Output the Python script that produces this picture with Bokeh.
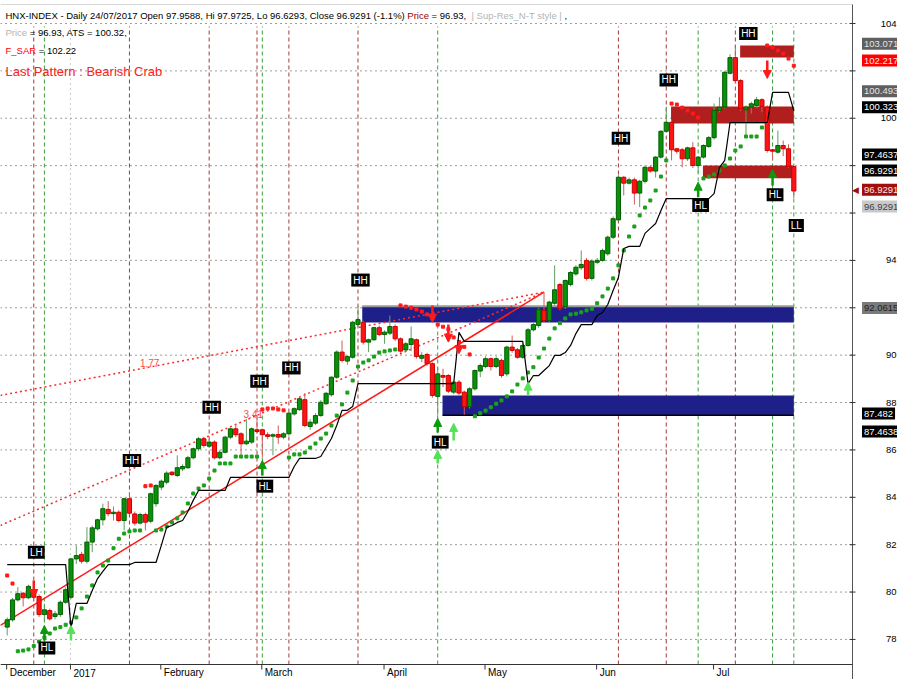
from bokeh.plotting import figure
from bokeh.models import Range1d, Label, Arrow, NormalHead
from bokeh.embed import file_html
from bokeh.resources import INLINE

FONT = "Liberation Sans"

# ---------------- data ----------------
month_start_bar = [0, 12, 29, 48, 71, 90, 111, 133]
month_names = ["December", "2017", "February", "March", "April", "May", "Jun", "Jul"]
price_ticks = [78, 80, 82, 84, 86, 88, 90, 92, 94, 96, 98, 100, 102, 104]

opens = [78.52, 78.83, 79.67, 79.95, 79.76, 80.07, 79.81, 79.05, 79.22, 78.97,
         79.05, 79.57, 79.78, 81.40, 81.59, 81.30, 82.11, 82.67, 83.05, 83.49,
         83.31, 83.37, 83.02, 83.94, 83.30, 82.91, 83.27, 82.99, 83.73, 84.43,
         84.64, 85.06, 84.92, 85.20, 85.25, 85.67, 86.05, 86.47, 86.16, 86.33,
         85.67, 85.90, 86.54, 86.89, 86.68, 86.26, 86.33, 86.85, 86.85, 86.64,
         86.58, 86.65, 86.54, 86.68, 87.52, 87.70, 88.12, 86.99, 87.13, 87.45,
         87.95, 88.33, 89.07, 90.13, 89.75, 89.91, 91.30, 91.39, 90.55, 90.65,
         91.16, 90.87, 90.93, 91.21, 90.69, 90.22, 90.45, 90.65, 89.87, 90.03,
         89.64, 88.26, 89.14, 89.14, 88.44, 88.86, 88.44, 87.83, 88.58, 89.33,
         89.52, 89.85, 89.52, 89.78, 89.21, 90.34, 90.23, 89.91, 90.41, 91.07,
         91.25, 91.89, 91.46, 92.19, 92.98, 92.05, 92.98, 93.43, 93.69, 94.00,
         93.24, 93.92, 94.00, 94.28, 94.98, 95.71, 97.51, 97.26, 97.40, 96.84,
         97.34, 97.93, 97.77, 98.36, 99.45, 99.83, 98.71, 98.67, 98.29, 98.75,
         98.01, 98.36, 98.81, 99.18, 100.33, 100.47, 101.90, 102.56, 101.59, 100.36,
         100.47, 100.54, 100.78, 100.47, 98.67, 98.57, 98.85, 98.71, 97.9588]
highs = [78.93, 79.75, 80.21, 80.00, 80.31, 80.30, 79.90, 79.51, 79.30, 79.20,
         79.65, 80.20, 81.45, 81.97, 81.70, 82.74, 82.80, 83.10, 83.73, 83.84,
         83.61, 83.45, 83.98, 84.22, 83.40, 83.35, 83.35, 84.20, 84.55, 84.75,
         85.10, 85.10, 85.77, 85.40, 85.75, 86.10, 86.55, 86.55, 86.45, 86.40,
         86.00, 86.60, 86.95, 87.10, 86.75, 87.31, 86.95, 87.31, 86.90, 86.75,
         86.70, 87.03, 86.75, 87.60, 87.80, 88.20, 88.40, 87.30, 87.55, 88.10,
         88.45, 89.10, 90.20, 90.62, 90.00, 91.45, 92.06, 91.45, 90.70, 91.20,
         91.25, 91.05, 91.67, 91.30, 90.75, 90.55, 91.21, 90.70, 90.13, 90.10,
         89.70, 89.49, 89.43, 89.20, 88.90, 88.95, 88.50, 88.65, 89.40, 89.65,
         89.95, 89.90, 89.95, 89.85, 90.40, 90.83, 90.30, 90.50, 91.15, 91.35,
         92.00, 92.66, 92.30, 93.79, 93.05, 93.20, 93.55, 93.80, 94.42, 94.10,
         94.05, 94.10, 94.50, 95.05, 95.85, 97.60, 97.55, 97.50, 97.50, 97.40,
         98.00, 98.00, 98.40, 99.50, 100.49, 99.95, 98.75, 98.75, 98.80, 98.99,
         98.40, 98.90, 99.25, 100.62, 100.89, 102.00, 102.70, 103.07, 101.65, 100.55,
         100.70, 100.90, 100.85, 100.55, 98.70, 99.48, 99.06, 98.90, 97.9725]
lows = [78.17, 78.75, 79.60, 79.39, 79.70, 79.70, 78.95, 78.73, 78.80, 78.85,
        78.95, 79.50, 79.70, 81.19, 81.20, 81.20, 81.68, 82.60, 82.81, 83.20,
        83.02, 82.95, 82.60, 83.25, 82.80, 82.85, 82.60, 82.90, 83.60, 84.30,
        84.55, 84.90, 84.85, 85.10, 85.20, 85.60, 85.95, 86.10, 86.10, 85.60,
        85.60, 85.85, 86.45, 86.55, 85.69, 86.20, 86.25, 86.70, 85.69, 86.45,
        85.77, 86.26, 86.45, 86.60, 87.45, 87.65, 86.95, 86.85, 87.05, 87.40,
        87.90, 88.25, 89.00, 89.70, 89.60, 89.85, 91.20, 90.45, 90.13, 90.60,
        90.80, 90.48, 90.85, 90.60, 90.10, 90.15, 90.17, 89.85, 89.70, 89.55,
        88.20, 87.46, 88.65, 88.40, 88.35, 88.30, 87.48, 87.75, 88.50, 89.07,
        89.45, 89.35, 89.45, 89.05, 89.10, 90.10, 89.85, 89.85, 90.35, 91.00,
        91.15, 91.40, 91.40, 92.10, 91.90, 91.95, 92.90, 93.35, 93.60, 93.15,
        93.15, 93.85, 93.95, 94.20, 94.90, 95.65, 96.74, 97.20, 96.36, 96.25,
        97.25, 97.70, 97.50, 98.30, 99.40, 98.22, 98.50, 97.93, 98.20, 97.90,
        97.71, 98.30, 98.75, 99.10, 100.25, 100.40, 101.85, 101.50, 100.30, 99.27,
        100.20, 100.45, 100.25, 98.55, 98.22, 98.50, 98.40, 97.90, 96.6293]
closes = [78.83, 79.67, 79.93, 79.76, 80.24, 79.78, 79.05, 79.25, 78.87, 79.08,
          79.57, 80.10, 81.40, 81.54, 81.30, 82.11, 82.71, 83.05, 83.52, 83.31,
          83.37, 83.02, 83.94, 83.33, 82.91, 83.27, 82.95, 84.15, 84.50, 84.68,
          85.02, 84.96, 85.25, 85.30, 85.67, 86.05, 86.47, 86.19, 86.33, 85.67,
          85.90, 86.54, 86.89, 86.64, 86.26, 86.37, 86.89, 86.78, 86.64, 86.57,
          86.64, 86.54, 86.68, 87.55, 87.74, 88.16, 87.03, 87.17, 87.45, 88.01,
          88.39, 89.07, 90.13, 89.78, 89.94, 91.39, 91.50, 90.55, 90.65, 91.16,
          90.87, 90.97, 91.21, 90.69, 90.17, 90.48, 90.69, 89.94, 89.99, 89.64,
          88.30, 89.21, 89.07, 88.48, 88.86, 88.40, 87.83, 88.58, 89.35, 89.56,
          89.85, 89.52, 89.85, 89.14, 90.34, 90.20, 89.91, 90.41, 91.07, 91.29,
          91.92, 91.46, 92.24, 92.76, 91.96, 93.15, 93.49, 93.71, 93.83, 93.24,
          93.97, 94.00, 94.42, 94.98, 95.76, 97.51, 97.26, 97.40, 96.84, 97.34,
          97.93, 97.77, 98.36, 99.45, 99.83, 98.67, 98.61, 98.29, 98.75, 98.01,
          98.36, 98.85, 99.18, 100.33, 100.47, 101.94, 102.56, 101.59, 100.40, 100.47,
          100.61, 100.78, 100.50, 98.64, 98.61, 98.85, 98.71, 97.96, 96.9291]

# parabolic SAR (F_SAR) dots and side (R = above price, G = below price)
sar = [80.70, 80.36,
       77.50, 77.53, 77.58, 77.72, 77.91, 78.08, 78.25, 78.46, 78.52, 78.62, 78.72,
       78.93, 79.31, 79.81, 80.28, 80.83, 81.12, 81.33, 81.85, 82.25, 82.47, 82.56, 82.60, 82.60,
       84.47, 84.50,
       82.60, 82.64, 82.77, 82.94, 83.11, 83.36, 83.74, 84.16, 84.37, 84.50, 84.79, 85.13, 85.43, 85.43, 85.43,
       85.72, 85.72, 85.72, 85.72, 85.72,
       87.71, 87.75, 87.75, 87.71, 87.67,
       85.68, 85.81, 85.81, 85.89, 86.10, 86.27, 86.48, 86.69, 87.03, 87.45,
       87.92, 88.42, 88.93, 89.52, 89.69, 89.78, 89.94, 90.11, 90.16, 90.20, 90.24,
       92.10, 92.05, 92.00, 91.93, 91.84, 91.72, 91.55, 91.29, 91.20, 91.10, 90.75, 90.56, 90.35, 90.03,
       87.42, 87.55, 87.66, 87.80, 87.95, 88.09, 88.26, 88.47, 88.76, 89.02,
       89.27, 89.49, 89.90, 90.28, 90.70, 91.13, 91.35, 91.55, 91.72, 91.75,
       91.81, 91.89, 91.96, 92.19, 92.48, 92.81, 93.24, 93.79, 94.42, 95.01,
       95.43, 95.90, 96.23, 96.53, 96.95, 97.54, 98.22,
       100.62, 100.58, 100.45, 100.33, 100.20, 100.03,
       97.46, 97.54, 97.63, 97.79, 98.01, 98.30, 98.64, 98.81, 99.23, 99.23, 99.23, 99.61,
       103.07, 102.99, 102.86, 102.73, 102.52, 102.217]
sar_side = ("RR" + "G" * 24 + "RR" + "G" * 20 + "R" * 5 + "G" * 21 + "R" * 14
            + "G" * 37 + "R" * 6 + "G" * 12 + "R" * 6)

# ATS trailing stop
ats = [81.16, 81.16, 81.16, 81.16, 81.16, 81.16, 81.16, 81.16, 81.16, 81.16,
       81.16, 81.16, 78.50, 79.52, 79.52, 79.52, 80.07, 80.57, 80.87, 81.16,
       81.16, 81.16, 81.16, 81.16, 81.25, 81.25, 81.25, 81.25, 81.25, 81.97,
       82.73, 82.81, 82.94, 83.02, 83.40, 83.87, 84.29, 84.29, 84.29, 84.29,
       84.29, 84.29, 84.84, 84.84, 84.84, 84.84, 84.84, 84.84, 84.84, 84.84,
       84.84, 84.84, 84.84, 84.84, 85.30, 85.64, 85.64, 85.64, 85.64, 85.72,
       86.10, 86.48, 87.03, 87.67, 87.67, 87.83, 88.80, 88.80, 88.80, 88.80,
       88.80, 88.80, 88.80, 88.80, 88.80, 88.80, 88.80, 88.80, 88.80, 88.80,
       88.80, 88.80, 88.80, 88.80, 88.80, 90.96, 90.58, 90.58, 90.58, 90.58,
       90.58, 90.58, 90.58, 90.58, 90.58, 90.58, 90.58, 90.58, 88.80, 89.14,
       89.14, 89.35, 89.56, 89.99, 89.99, 90.11, 90.41, 90.91, 91.29, 91.29,
       91.29, 91.67, 91.80, 92.14, 92.73, 93.28, 94.50, 94.59, 94.59, 94.59,
       95.14, 95.35, 95.56, 96.11, 96.61, 96.61, 96.61, 96.61, 96.61, 96.61,
       96.61, 96.61, 96.61, 96.82, 97.92, 98.22, 99.82, 99.82, 99.82, 99.82,
       99.82, 99.82, 99.82, 99.82, 101.09, 101.09, 101.09, 101.09, 100.323]

# swing pivots
swing_bar = [5, 7, 23, 38, 47, 48, 53, 66, 81, 115, 124, 130, 137, 144, 148]
swing_text = ["LH", "HL", "HH", "HH", "HH", "HL", "HH", "HH", "HL", "HH", "HH", "HL", "HH", "HL", "LL"]
swing_label_price = [81.68, 77.64, 85.55, 87.80, 88.90, 84.47, 89.46, 93.17, 86.33,
                     99.16, 101.62, 96.32, 103.58, 96.77, 95.47]

# support / resistance zones
zone_start = [66.8, 81.9, 137.9, 124.9, 130.9]
zone_top = [92.0615, 88.30, 103.071, 100.493, 98.01]
zone_bottom = [91.38, 87.4638, 102.56, 99.78, 97.4637]
zone_kind = ["sup", "sup", "res", "res", "res"]

# harmonic / trend lines (bar index, price)
trend_x0 = [-1.3, -1.3, -1.3]
trend_y0 = [78.59, 82.81, 88.30]
trend_x1 = [101.0, 101.0, 101.0]
trend_y1 = [92.66, 92.66, 92.66]
trend_style = ["solid", "dotted", "dotted"]
ratio_text = ["1.77", "3.41"]
ratio_bar = [26.8, 46.3]
ratio_price = [89.65, 87.50]

# buy / sell arrows
buy_bar = [7, 12, 48, 81, 81, 84, 98, 130, 144]
buy_base = [77.96, 77.96, 84.92, 86.74, 85.43, 86.40, 88.30, 96.67, 97.16]
buy_tip = [78.59, 78.59, 85.55, 87.33, 85.98, 87.12, 88.86, 97.30, 97.84]
buy_tone = ["dark", "light", "dark", "dark", "light", "light", "light", "dark", "dark"]
sell_bar = [5, 80, 83, 85, 143]
sell_base = [80.49, 92.10, 91.29, 90.59, 102.44]
sell_tip = [79.77, 91.39, 90.55, 90.06, 101.68]

# price-level tags on the right axis
tag_value = [103.071, 102.217, 100.493, 100.323, 97.4637, 96.9291, 96.9291, 96.9291, 92.0615, 87.482, 87.4638]
tag_style = ["gray", "red", "gray", "black", "black", "black", "close", "light", "mid", "black", "black"]

# ---------------- presentation helpers (page pixel -> data) ----------------
X0, DX = 6.7, 5.315
PY0, PPU = 23.0, 23.69


def xs(px):
    return (px - X0) / DX


def ys(py):
    return 104 - (py - PY0) / PPU


# Arial / Liberation Sans advance widths (1/1000 em) for positioning coloured text runs
AW = {" ": 278, ",": 278, "-": 333, ".": 278, "/": 278, ":": 278, "=": 584, "(": 333, ")": 333,
      "%": 889, "|": 260, "_": 556, "A": 667, "B": 667, "C": 722, "D": 722, "E": 667, "F": 611,
      "H": 722, "I": 278, "L": 556, "N": 722, "O": 778, "P": 667, "R": 722, "S": 667, "T": 611,
      "X": 667, "a": 556, "b": 556, "c": 500, "e": 556, "h": 556, "i": 222, "l": 222, "n": 556,
      "o": 556, "p": 556, "r": 333, "s": 500, "t": 278, "u": 556, "y": 500}


def tw(s, fs):
    return sum(AW.get(ch, 556) for ch in s) * fs / 1000.0


n = len(closes)
idx = list(range(n))

p = figure(width=897, height=679,
           x_range=Range1d(xs(0), xs(897)), y_range=Range1d(ys(679), ys(0)),
           x_axis_location=None, y_axis_location=None,
           output_backend="svg", toolbar_location=None,
           min_border_left=0, min_border_right=0, min_border_top=0, min_border_bottom=0)
p.outline_line_color = None
p.background_fill_color = "white"
p.border_fill_color = "white"
p.grid.visible = False

AXX = xs(852)       # price scale line
AXY = ys(664)       # time scale line
TOP = ys(26)

# thin frame line at the top of the chart
p.segment(x0=[xs(0)], y0=[ys(4)], x1=[AXX], y1=[ys(4)], line_color="#d8d8d8", line_width=1)

# horizontal dotted grid
p.segment(x0=[xs(0)] * len(price_ticks), y0=price_ticks, x1=[AXX] * len(price_ticks), y1=price_ticks,
          line_color="#3c3c3c", line_dash="1 4", line_width=1)

# vertical pivot lines
piv_col = ["#a33a3a" if t in ("HH", "LH") else "#3aa03a" for t in swing_text]
p.segment(x0=swing_bar, y0=[AXY] * len(swing_bar), x1=swing_bar, y1=[TOP] * len(swing_bar),
          line_color=piv_col, line_dash="4 3", line_width=1)
p.segment(x0=[month_start_bar[1] - 0.1], y0=[AXY], x1=[month_start_bar[1] - 0.1], y1=[TOP],
          line_color="#9a9a9a", line_dash="1 4", line_width=1)

# zones
zone_fill = {"sup": "#1f1f8a", "res": "#b01e1e"}
p.quad(left=zone_start, right=[idx[-1]] * len(zone_start), top=zone_top, bottom=zone_bottom,
       fill_color=[zone_fill[k] for k in zone_kind], line_color=None)
p.segment(x0=[zone_start[0]], y0=[zone_top[0]], x1=[idx[-1]], y1=[zone_top[0]],
          line_color="#9a9a9a", line_width=2)
p.segment(x0=[zone_start[1]], y0=[zone_bottom[1]], x1=[idx[-1]], y1=[zone_bottom[1]],
          line_color="black", line_width=1.5)

# trend / pattern lines
for x0, y0, x1, y1, st in zip(trend_x0, trend_y0, trend_x1, trend_y1, trend_style):
    if st == "solid":
        p.line([x0, x1], [y0, y1], line_color="#ff1a1a", line_width=1.5)
    else:
        p.line([x0, x1], [y0, y1], line_color="#ff2a2a", line_width=1.5, line_dash="2 3")

# candles
up = [c >= o for o, c in zip(opens, closes)]
p.segment(x0=idx, y0=highs, x1=idx, y1=lows,
          line_color=["#5f9f5f" if u else "#d05a5a" for u in up], line_width=1)
p.vbar(x=idx, width=0.78,
       top=[max(o, c) for o, c in zip(opens, closes)],
       bottom=[min(o, c) for o, c in zip(opens, closes)],
       fill_color=["#0a900a" if u else "#ff1414" for u in up],
       line_color=["#006000" if u else "#cc0000" for u in up], line_width=1)

# SAR dots
p.scatter(x=idx, y=sar, marker="square", size=3,
          color=["#ff1a1a" if s == "R" else "#1aa01a" for s in sar_side])

# ATS line
p.line(idx, ats, line_color="black", line_width=1.2)

# price scale and time scale
p.segment(x0=[AXX], y0=[ys(679)], x1=[AXX], y1=[ys(4)], line_color="#555555", line_width=1)
p.segment(x0=[xs(0)], y0=[AXY], x1=[AXX], y1=[AXY], line_color="#333333", line_width=1)
p.segment(x0=[xs(849)] * len(price_ticks), y0=price_ticks, x1=[xs(855)] * len(price_ticks),
          y1=price_ticks, line_color="#333333", line_width=1)
mt = [b - 0.1 for b in month_start_bar]
p.segment(x0=mt, y0=[AXY] * len(mt), x1=mt, y1=[ys(669)] * len(mt), line_color="#333333", line_width=1)

# arrows
for b, y0, y1, tone in zip(buy_bar, buy_base, buy_tip, buy_tone):
    col = "#0a9a0a" if tone == "dark" else "#55e055"
    p.add_layout(Arrow(end=NormalHead(size=8, fill_color=col, line_color=col),
                       x_start=b, y_start=y0, x_end=b, y_end=y1,
                       line_color=col, line_width=2.5))
for b, y0, y1 in zip(sell_bar, sell_base, sell_tip):
    p.add_layout(Arrow(end=NormalHead(size=8, fill_color="#ff1a1a", line_color="#ff1a1a"),
                       x_start=b, y_start=y0, x_end=b, y_end=y1,
                       line_color="#ff1a1a", line_width=2.5))

# swing labels
for b, t, yv in zip(swing_bar, swing_text, swing_label_price):
    off = 13 if (b == 137) else 2.5
    p.add_layout(Label(x=b, y=yv, x_offset=off, text=t, text_align="center",
                       text_baseline="middle", text_color="white", text_font=FONT,
                       text_font_size="10px", background_fill_color="black", padding=(2, 1)))

# ratio labels
for t, b, yv in zip(ratio_text, ratio_bar, ratio_price):
    p.add_layout(Label(x=b, y=yv, text=t, text_align="center", text_baseline="middle",
                       text_color="#ff4a4a", text_font=FONT, text_font_size="10px"))

# price tags (screen rows where the tags sit)
tag_y = [43.3, 60, 90.7, 106.7, 154, 170, 189.3, 206, 307.5, 413, 431]

# price scale labels (those lying under a tag are hidden, as on the original scale)
for t in price_ticks:
    ty = PY0 + (104 - t) * PPU
    if any(abs(ty - g) < 10.8 for g in tag_y):
        continue
    p.add_layout(Label(x=xs(896), y=t, text=str(t), text_align="right", text_baseline="middle",
                       text_color="black", text_font=FONT, text_font_size="9.5px"))

# time scale labels
for b, m in zip(mt, month_names):
    p.add_layout(Label(x=b, y=ys(672), x_offset=3, text=m, text_align="left",
                       text_baseline="middle", text_color="black", text_font=FONT,
                       text_font_size="10px"))

tag_colors = {"gray": ("#5f5f5f", "#e4e4e4"), "red": ("#ff0000", "#ffe0e0"),
              "black": ("#000000", "#ffffff"), "close": ("#a00f0f", "#ffe8e8"),
              "light": ("#c9c9c9", "#404040"), "mid": ("#7a7a7a", "#1e1e1e")}
for v, st, py in zip(tag_value, tag_style, tag_y):
    bg, fg = tag_colors[st]
    p.add_layout(Label(x=xs(861.5), y=ys(py), text=f"{v:.6g}", text_align="left",
                       text_baseline="middle", text_color=fg, text_font=FONT,
                       text_font_size="9.5px", background_fill_color=bg, padding=(2, 3)))
    if st == "close":
        p.add_layout(Label(x=xs(851.5), y=ys(py), text="\u25c0", text_align="left",
                           text_baseline="middle", text_color=bg, text_font="DejaVu Sans",
                           text_font_size="9px"))

# header (coloured runs laid out one after another)
chg = (closes[-1] / closes[-2] - 1) * 100
HF = 9.5
header_lines = [
    (15, HF, [(f"HNX-INDEX - Daily 24/07/2017 Open {opens[-1]:.4f}, Hi {highs[-1]:.4f}, "
               f"Lo {lows[-1]:.4f}, Close {closes[-1]:.4f} ({chg:.1f}%)", "black"),
              (" Price", "#990000"), (f" = {closes[-1]:.2f},", "black"),
              ("  | Sup-Res_N-T style |", "#b4b4b4"), (" ,", "black")]),
    (32, HF, [("Price", "#b4b4b4"), (f" = {closes[-1]:.2f}, ATS = {ats[-1]:.2f},", "black")]),
    (50, HF, [("F_SAR", "#ff0000"), (f" = {sar[-1]:.2f}", "black")]),
    (71, 13, [("Last Pattern : Bearish Crab", "#ff2020")]),
]
for py, fs, runs in header_lines:
    cx = 5.0
    for t, c in runs:
        lead = len(t) - len(t.lstrip(" "))
        p.add_layout(Label(x=xs(cx + tw(t[:lead], fs)), y=ys(py), text=t.lstrip(" "),
                           text_align="left", text_baseline="middle", text_color=c,
                           text_font=FONT, text_font_size=f"{fs}px"))
        cx += tw(t, fs)

open("out.html", "w").write(file_html(p, INLINE))
